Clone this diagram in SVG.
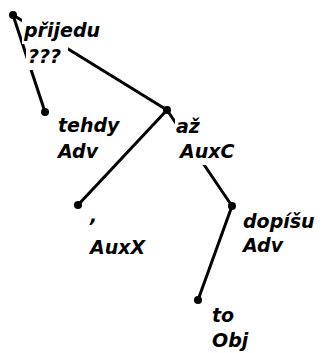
<svg xmlns="http://www.w3.org/2000/svg" width="324" height="353" viewBox="0 0 324 353">
<style>
.edge{stroke:#000;stroke-width:3;stroke-linecap:round;fill:none}
.dot{fill:#000}
.bg{fill:#fff}
.lbl{font-family:"DejaVu Sans","Verdana",sans-serif;font-weight:bold;font-style:italic;font-size:19px;fill:#000}
</style>
<rect width="324" height="353" fill="#fff"/>
<g id="connectors">
<line class="edge" x1="13" y1="15" x2="45" y2="112"/>
<line class="edge" x1="13" y1="15" x2="167" y2="110"/>
<line class="edge" x1="167" y1="110" x2="78" y2="205"/>
<line class="edge" x1="167" y1="110" x2="232" y2="206"/>
<line class="edge" x1="232" y1="206" x2="198" y2="300"/>
</g>
<g id="n-prijedu">
<rect class="bg" x="22" y="19" width="82" height="25"/>
<rect class="bg" x="26" y="44" width="42" height="26"/>
<circle class="dot" cx="13" cy="15" r="4"/>
<text class="lbl" x="24" y="37">přijedu</text>
<text class="lbl" x="28" y="63">???</text>
</g>
<g id="n-tehdy">
<rect class="bg" x="56" y="115" width="66" height="24"/>
<rect class="bg" x="56" y="139" width="46" height="26"/>
<circle class="dot" cx="45" cy="112" r="4"/>
<text class="lbl" x="58" y="132">tehdy</text>
<text class="lbl" x="58" y="158">Adv</text>
</g>
<g id="n-az">
<rect class="bg" x="175" y="116" width="30" height="25"/>
<rect class="bg" x="178" y="140" width="64" height="25"/>
<circle class="dot" cx="167" cy="110" r="4"/>
<text class="lbl" x="176" y="133">až</text>
<text class="lbl" x="180" y="158">AuxC</text>
</g>
<g id="n-comma">
<circle class="dot" cx="78" cy="205" r="4"/>
<text class="lbl" x="90" y="222">,</text>
<text class="lbl" x="90" y="254">AuxX</text>
</g>
<g id="n-dopisu">
<circle class="dot" cx="232" cy="206" r="4"/>
<text class="lbl" x="243" y="228">dopíšu</text>
<text class="lbl" x="243" y="252">Adv</text>
</g>
<g id="n-to">
<circle class="dot" cx="198" cy="300" r="4"/>
<text class="lbl" x="212" y="322">to</text>
<text class="lbl" x="212" y="347">Obj</text>
</g>
</svg>
